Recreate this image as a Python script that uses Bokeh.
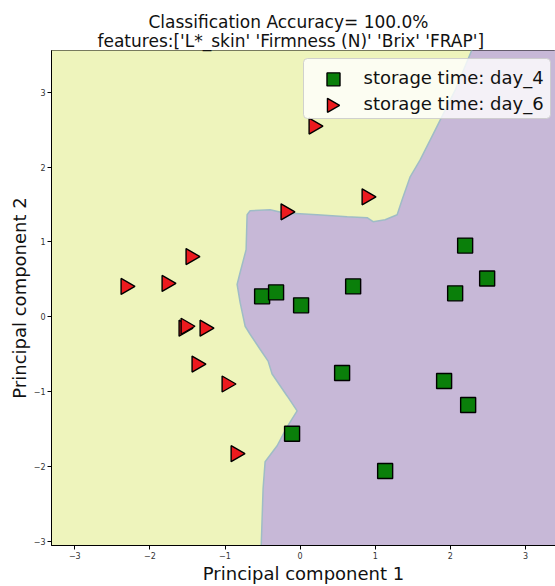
import numpy as np
from bokeh.plotting import figure
from bokeh.models import ColumnDataSource, Range1d, FixedTicker, Label, Title, BoxAnnotation
from bokeh.transform import dodge
from bokeh.embed import file_html
from bokeh.resources import INLINE

# ---- text ----
title_lines = [
    "Classification Accuracy= 100.0%",
    "features:['L*_skin' 'Firmness (N)' 'Brix' 'FRAP']",
]
x_label = "Principal component 1"
y_label = "Principal component 2"
class_labels = ["storage time: day_4", "storage time: day_6"]

# ---- PCA scores per class ----
day4_pc1 = [-0.506, -0.320, 0.013, 0.706, 2.197, 2.490, 2.064, 0.559, 1.917, 2.237, -0.107, 1.132]
day4_pc2 = [0.272, 0.325, 0.152, 0.405, 0.951, 0.511, 0.312, -0.753, -0.860, -1.180, -1.566, -2.063]

day6_pc1 = [0.213, 0.919, -0.160, -1.425, -2.290, -1.744, -1.518, -1.491, -1.238, -1.345, -0.945, -0.825]
day6_pc2 = [2.549, 1.603, 1.403, 0.804, 0.405, 0.445, -0.154, -0.128, -0.154, -0.634, -0.900, -1.832]

# ---- decision boundary between the two predicted regions (top to bottom) ----
boundary_pc1 = [2.30, 2.064, 1.798, 1.598, 1.465, 1.358, 1.292, 1.132, 0.972, 0.892, 0.626, 0.226,
                -0.226, -0.399, -0.666, -0.706, -0.719, -0.799, -0.839, -0.799, -0.732, -0.666,
                -0.533, -0.426, -0.373, -0.173, -0.040, -0.173, -0.306, -0.466, -0.493, -0.519]
boundary_pc2 = [3.60, 3.029, 2.496, 2.097, 1.870, 1.564, 1.364, 1.297, 1.270, 1.324, 1.337, 1.364,
                1.390, 1.430, 1.417, 1.364, 0.897, 0.591, 0.431, 0.192, -0.128, -0.235,
                -0.435, -0.594, -0.767, -1.060, -1.260, -1.473, -1.726, -1.939, -2.299, -3.10]

x_lim = (-3.31, 3.40)
y_lim = (-3.06, 3.56)
tick_values = [-3, -2, -1, 0, 1, 2, 3]

region_day6_color = "#EEF4BC"
region_day4_color = "#C7B8D7"
day4_color = "#0a7f0a"
day6_color = "#ec1a1e"

W, H = 555, 586
B_LEFT, B_RIGHT, B_TOP, B_BOTTOM = 51, 0, 50, 39
frame_w = W - B_LEFT - B_RIGHT
frame_h = H - B_TOP - B_BOTTOM

p = figure(width=W, height=H, output_backend="svg", toolbar_location=None,
           title=None, x_range=Range1d(*x_lim), y_range=Range1d(*y_lim),
           min_border_left=B_LEFT, min_border_right=B_RIGHT,
           min_border_top=B_TOP, min_border_bottom=B_BOTTOM)
p.background_fill_color = region_day6_color
p.border_fill_color = "white"
p.outline_line_color = "black"
p.outline_line_width = 1
p.grid.visible = False

# predicted regions
pad_x = (x_lim[0] - 0.2, x_lim[1] + 0.3)
pad_y = (y_lim[0] - 0.1, y_lim[1] + 0.1)
p.patch(boundary_pc1 + [pad_x[0], pad_x[0]], boundary_pc2 + [pad_y[0], pad_y[1]],
        fill_color=region_day6_color, line_color=None)
p.patch(boundary_pc1 + [pad_x[1], pad_x[1]], boundary_pc2 + [pad_y[0], pad_y[1]],
        fill_color=region_day4_color, line_color="#9fbcc6", line_width=1.5)

# samples
square_style = dict(marker="square", fill_color=day4_color, line_color="black", line_width=1.4)
tri_style = dict(marker="triangle", angle=-np.pi / 2, fill_color=day6_color,
                 line_color="black", line_width=1.4)
src4 = ColumnDataSource(dict(x=day4_pc1, y=day4_pc2))
src6 = ColumnDataSource(dict(x=day6_pc1, y=day6_pc2))
p.scatter("x", "y", source=src4, size=15, **square_style)
# triangles are drawn around their centroid; shift so the bounding box is centred on the point
p.scatter(dodge("x", -0.032), "y", source=src6, size=16, **tri_style)

# axes
minus = {v: str(v).replace("-", "\u2212") for v in tick_values}
for ax in (p.xaxis[0], p.yaxis[0]):
    ax.ticker = FixedTicker(ticks=tick_values)
    ax.major_label_overrides = minus
    ax.minor_tick_line_color = None
    ax.major_tick_in = 0
    ax.major_tick_out = 4
    ax.major_label_standoff = 2
    ax.major_label_text_font = "DejaVu Sans"
    ax.major_label_text_font_size = "8px"
    ax.major_label_text_color = "#333333"
    ax.axis_line_color = "black"
    ax.major_tick_line_color = "black"
    ax.axis_label_text_font = "DejaVu Sans"
    ax.axis_label_text_font_size = "18px"
    ax.axis_label_text_font_style = "normal"
    ax.axis_label_text_color = "#111111"
p.xaxis.axis_label = x_label
p.yaxis.axis_label = y_label
p.xaxis.axis_label_standoff = 1
p.yaxis.axis_label_standoff = 1

# legend box in the upper right corner (frame pixel units, origin bottom-left)
lg_left, lg_right, lg_top, lg_bottom = 252, 499, 487, 427
lg_glyph_x, lg_text_x = 282, 312
lg_rows = [468, 442]
p.extra_x_ranges = {"frame_px": Range1d(0, frame_w)}
p.extra_y_ranges = {"frame_px": Range1d(0, frame_h)}
p.add_layout(BoxAnnotation(left=lg_left, right=lg_right, top=lg_top, bottom=lg_bottom,
                           left_units="screen", right_units="screen",
                           top_units="screen", bottom_units="screen",
                           fill_color="white", fill_alpha=0.8,
                           line_color="#cccccc", line_alpha=0.9, line_width=1,
                           border_radius=4))
sq_sw = dict(square_style, size=13)
tri_sw = dict(tri_style, size=14)
for row_y, label, style, dx in zip(lg_rows, class_labels, (sq_sw, tri_sw), (0, -2)):
    p.scatter([lg_glyph_x + dx], [row_y], x_range_name="frame_px", y_range_name="frame_px",
              level="overlay", **style)
    p.add_layout(Label(x=lg_text_x, y=row_y, x_units="screen", y_units="screen", text=label,
                       text_align="left", text_baseline="middle", level="overlay",
                       text_font="DejaVu Sans", text_font_size="18px", text_color="#111111"))

# two-line title, left-aligned at offsets that centre it over the figure body
for text, offset, standoff in zip(reversed(title_lines), (46, 97), (-1, -5)):
    p.add_layout(Title(text=text, align="left", offset=offset, standoff=standoff,
                       text_font="DejaVu Sans", text_font_size="17px",
                       text_font_style="normal", text_color="#111111"), "above")

open("out.html", "w").write(file_html(p, INLINE))
